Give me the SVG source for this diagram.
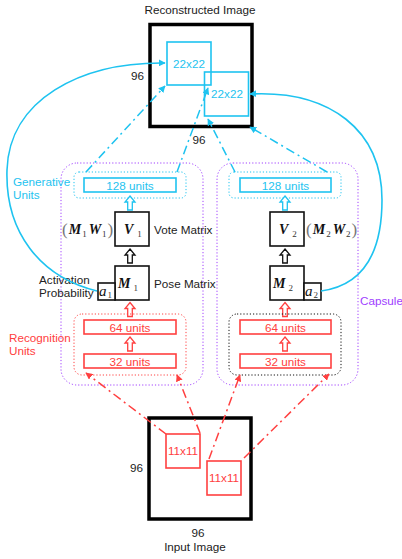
<svg xmlns="http://www.w3.org/2000/svg" width="402" height="559" viewBox="0 0 402 559">
<style>
text{font-family:"Liberation Sans",Arial,sans-serif;font-size:11.7px;fill:#222}
.c{fill:#1ec3f0}.r{fill:#ff4040}.p{fill:#a040ff}
.m{font-family:"Liberation Serif","Times New Roman",serif;font-weight:bold;font-style:italic;font-size:14px;fill:#111}
.s{font-family:"Liberation Serif","Times New Roman",serif;font-size:9px;fill:#333}
.par{font-family:"Liberation Serif","Times New Roman",serif;font-size:17px;fill:#777}
.img{fill:#fff;stroke:#000;stroke-width:3.5}
.mat{fill:#fff;stroke:#111;stroke-width:1.6}
.cbox{fill:none;stroke:#1ec3f0;stroke-width:1.6}
.rbox{fill:none;stroke:#ff4040;stroke-width:1.6}
.cap{fill:none;stroke:#a040ff;stroke-width:1;stroke-dasharray:1.2 2}
.cdot{fill:none;stroke:#1ec3f0;stroke-width:1;stroke-dasharray:1.2 2}
.rdot{fill:none;stroke:#ff4040;stroke-width:1;stroke-dasharray:1.2 2}
.kdot{fill:none;stroke:#111;stroke-width:1;stroke-dasharray:1.2 2}
.cdash{fill:none;stroke:#1ec3f0;stroke-width:1.5;stroke-dasharray:9 4 2 4}
.rdash{fill:none;stroke:#ff4040;stroke-width:1.5;stroke-dasharray:9 4 2 4}
.curve{fill:none;stroke:#1ec3f0;stroke-width:1.6}
.ha{stroke-width:1.3;fill:#fff}
</style>
<defs>
<marker id="ac" viewBox="0 0 10 10" refX="9" refY="5" markerWidth="7" markerHeight="7" markerUnits="userSpaceOnUse" orient="auto"><path d="M0,0 L10,5 L0,10 z" fill="#1ec3f0"/></marker>
<marker id="ar" viewBox="0 0 10 10" refX="9" refY="5" markerWidth="7" markerHeight="7" markerUnits="userSpaceOnUse" orient="auto"><path d="M0,0 L10,5 L0,10 z" fill="#ff4040"/></marker>
<path id="hollow" d="M0,0 L5,6 L2.3,6 L2.3,14 L-2.3,14 L-2.3,6 L-5,6 Z"/>
</defs>

<g id="reconstructed">
<text x="200" y="14" text-anchor="middle">Reconstructed Image</text>
<rect class="img" x="150" y="24.5" width="102" height="102"/>
<text x="144" y="80" text-anchor="end">96</text>
<text x="199" y="144" text-anchor="middle">96</text>
<g id="patch-r1"><rect class="cbox" x="167" y="42" width="44" height="43"/><text class="c" x="189" y="68" text-anchor="middle">22x22</text></g>
<g id="patch-r2"><rect class="cbox" x="204.5" y="72" width="44" height="44"/><text class="c" x="227" y="98" text-anchor="middle">22x22</text></g>
</g>

<g id="capsule1">
<rect class="cap" x="61" y="163" width="142" height="222" rx="16"/>
<rect class="cdot" x="74" y="172" width="112" height="26" rx="5"/>
<rect class="cbox" x="84" y="178" width="92" height="14"/>
<text class="c" x="130" y="189.5" text-anchor="middle">128 units</text>
<use href="#hollow" x="130" y="196" stroke="#1ec3f0" class="ha"/>
<rect class="mat" x="115" y="212" width="34" height="34"/>
<text x="124" y="234"><tspan class="m">V</tspan><tspan class="s" dx="4" dy="3">1</tspan></text>
<text x="62" y="235"><tspan class="par">(</tspan><tspan class="m" dx="1" dy="-1">M</tspan><tspan class="s" dx="1" dy="3">1</tspan><tspan class="m" dx="2" dy="-3">W</tspan><tspan class="s" dx="1" dy="3">1</tspan><tspan class="par" dx="1" dy="-2">)</tspan></text>
<text x="154" y="234">Vote Matrix</text>
<use href="#hollow" x="130" y="249" stroke="#111" class="ha"/>
<rect class="mat" x="115" y="266" width="34" height="34"/>
<text x="118" y="288"><tspan class="m">M</tspan><tspan class="s" dx="3" dy="3">1</tspan></text>
<rect class="mat" x="98" y="283" width="17" height="17"/>
<text x="99" y="296"><tspan style="font-family:'Liberation Serif',serif;font-style:italic;font-size:15px;fill:#111">a</tspan><tspan class="s" dx="1" dy="2">1</tspan></text>
<text x="154" y="288">Pose Matrix</text>
<use href="#hollow" x="130" y="302.5" stroke="#ff4040" class="ha"/>
<rect class="rdot" x="74" y="314" width="112" height="61" rx="8"/>
<rect class="rbox" x="84" y="320" width="92" height="14"/>
<text class="r" x="130" y="331.5" text-anchor="middle">64 units</text>
<use href="#hollow" x="130" y="337" stroke="#ff4040" class="ha"/>
<rect class="rbox" x="84" y="354" width="92" height="14"/>
<text class="r" x="130" y="365.5" text-anchor="middle">32 units</text>
</g>

<g id="capsule2">
<rect class="cap" x="217" y="163" width="141" height="222" rx="16"/>
<rect class="cdot" x="229" y="172" width="112" height="26" rx="5"/>
<rect class="cbox" x="240" y="178" width="91" height="14"/>
<text class="c" x="285.5" y="189.5" text-anchor="middle">128 units</text>
<use href="#hollow" x="285" y="196" stroke="#1ec3f0" class="ha"/>
<rect class="mat" x="270" y="212" width="34" height="34"/>
<text x="279" y="234"><tspan class="m">V</tspan><tspan class="s" dx="4" dy="3">2</tspan></text>
<text x="306" y="235"><tspan class="par">(</tspan><tspan class="m" dx="1" dy="-1">M</tspan><tspan class="s" dx="1" dy="3">2</tspan><tspan class="m" dx="2" dy="-3">W</tspan><tspan class="s" dx="1" dy="3">2</tspan><tspan class="par" dx="1" dy="-2">)</tspan></text>
<use href="#hollow" x="285" y="249" stroke="#111" class="ha"/>
<rect class="mat" x="270" y="266" width="34" height="34"/>
<text x="273" y="288"><tspan class="m">M</tspan><tspan class="s" dx="3" dy="3">2</tspan></text>
<rect class="mat" x="304" y="283" width="17" height="17"/>
<text x="305" y="296"><tspan style="font-family:'Liberation Serif',serif;font-style:italic;font-size:15px;fill:#111">a</tspan><tspan class="s" dx="1" dy="2">2</tspan></text>
<use href="#hollow" x="285" y="302.5" stroke="#ff4040" class="ha"/>
<rect class="kdot" x="229" y="314" width="112" height="61" rx="8"/>
<rect class="rbox" x="240" y="320" width="91" height="14"/>
<text class="r" x="285.5" y="331.5" text-anchor="middle">64 units</text>
<use href="#hollow" x="285" y="337" stroke="#ff4040" class="ha"/>
<rect class="rbox" x="240" y="354" width="91" height="14"/>
<text class="r" x="285.5" y="365.5" text-anchor="middle">32 units</text>
</g>

<g id="labels">
<text class="c" x="13" y="186">Generative</text>
<text class="c" x="13" y="199">Units</text>
<text x="39" y="284">Activation</text>
<text x="39" y="297">Probability</text>
<text class="r" x="9" y="342">Recognition</text>
<text class="r" x="9" y="355">Units</text>
<text class="p" x="360" y="305">Capsule</text>
</g>

<g id="input">
<rect class="img" x="149" y="418" width="102" height="101"/>
<text x="143" y="472" text-anchor="end">96</text>
<text x="198" y="537" text-anchor="middle">96</text>
<text x="195" y="551" text-anchor="middle">Input Image</text>
<g id="patch-i1"><rect class="rbox" x="166" y="434" width="34" height="34"/><text class="r" x="183" y="455" text-anchor="middle">11x11</text></g>
<g id="patch-i2"><rect class="rbox" x="207" y="461" width="34" height="34"/><text class="r" x="224" y="482" text-anchor="middle">11x11</text></g>
</g>

<g id="connectors">
<path class="curve" d="M97,291 C40,277 5,232 7,170 C9,100 80,62 165,63" marker-end="url(#ac)"/>
<path class="curve" d="M321,291 C365,285 382,250 382,200 C382,130 330,90 250,94" marker-end="url(#ac)"/>
<path class="cdash" d="M86,172 L165,86" marker-end="url(#ac)"/>
<path class="cdash" d="M177,172 L208,88" marker-end="url(#ac)"/>
<path class="cdash" d="M235,172 L208,119" marker-end="url(#ac)"/>
<path class="cdash" d="M327,172 L250,127" marker-end="url(#ac)"/>
<path class="rdash" d="M166,434 L86,373" marker-end="url(#ar)"/>
<path class="rdash" d="M200,433 L177,375" marker-end="url(#ar)"/>
<path class="rdash" d="M209,459 L240,375" marker-end="url(#ar)"/>
<path class="rdash" d="M244,458 L329,374" marker-end="url(#ar)"/>
</g>
</svg>
